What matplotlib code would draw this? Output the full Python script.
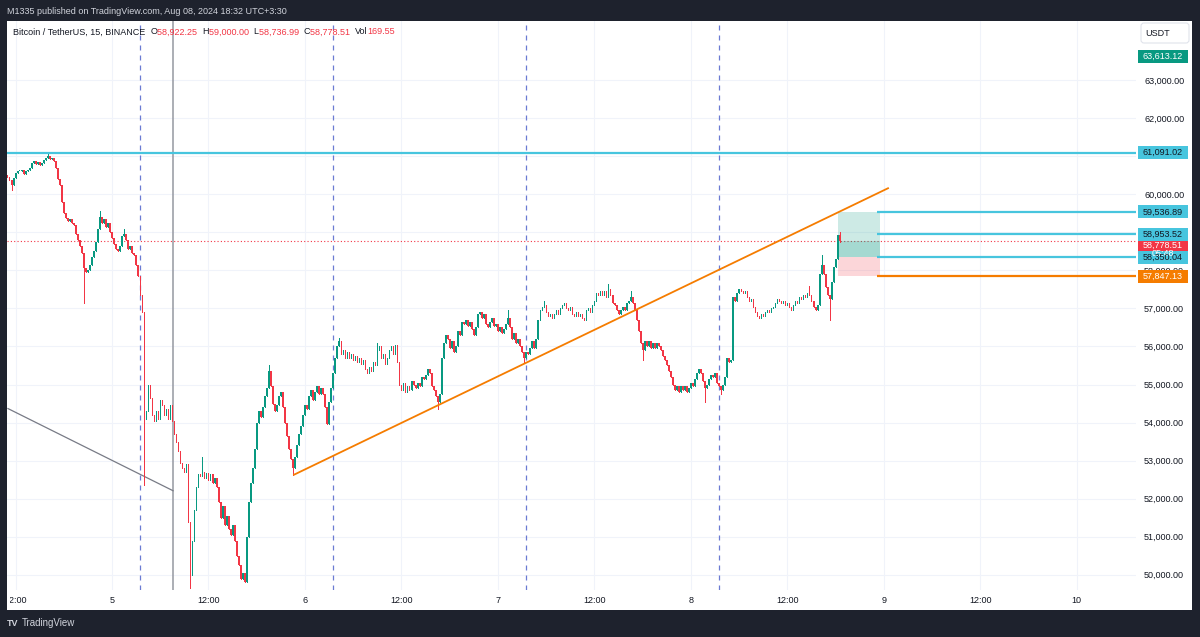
import numpy as np
import matplotlib.pyplot as plt
import matplotlib.transforms as mtransforms
from matplotlib.patches import Rectangle, FancyBboxPatch

plt.rcParams['font.family'] = ['Liberation Sans', 'DejaVu Sans']

W, H = 1200, 637

# 15 minute candles, time in hours counted from Aug 5 00:00
start_hour = -13.0
bar_hours = 0.25
first_open = 60500
closes = [
    60450, 60380, 60250, 60420, 60550, 60600, 60620, 60650, 60520, 60600,
    60650, 60700, 60820, 60880, 60800, 60850, 60780, 60830, 60900, 60950,
    61000, 60920, 60950, 60880, 60700, 60400, 60250, 59800, 59500, 59380,
    59300, 59350, 59250, 59200, 58950, 58800, 58650, 58450, 58050, 57950,
    58000, 58150, 58350, 58500, 58750, 59100, 59400, 59250, 59350, 59150,
    59250, 59000, 58850, 58700, 58550, 58500, 58650, 58900, 58950, 58800,
    58550, 58650, 58450, 58400, 58150, 57850, 57350, 56900, 54100, 54300,
    55000, 54650, 54200, 54050, 54300, 54100, 54600, 54450, 54200, 54350,
    54100, 54450, 54050, 53700, 53500, 53250, 52950, 52800, 52700, 52900,
    51400, 50000, 50900, 51700, 52300, 52650, 52600, 52700, 52550, 52680,
    52500, 52650, 52400, 52550, 52300, 51900, 51500, 51800, 51300, 51550,
    51200, 51050, 51300, 50900, 50500, 50250, 49900, 50050, 49800, 51000,
    51900, 52400, 52800, 53300, 54000, 54300, 54150, 54400, 54700, 54900,
    55350, 54950, 54500, 54300, 54450, 54700, 54800, 54400, 54000, 53650,
    53300, 53050, 52800, 53100, 53400, 53700, 53900, 54200, 54450, 54350,
    54700, 54850, 54600, 54800, 54950, 54750, 54900, 54750, 54400, 53950,
    54550, 54900, 55300, 55700, 56000, 56150, 55800, 55900, 55700, 55850,
    55700, 55800, 55650, 55750, 55600, 55700, 55550, 55650, 55400, 55300,
    55450, 55350, 55600, 55500, 55900, 56000, 55700, 55800, 55550, 55700,
    55900, 56000, 55800, 56050, 55600, 55000, 54850, 55050, 54800, 54950,
    54850, 55100, 55000, 54900, 55050, 54950, 55200, 55150, 55250, 55400,
    55300, 54950, 54850, 54700, 54550, 54750, 55700, 56100, 56300, 56200,
    55950, 56150, 55850, 56000, 56400, 56300, 56650, 56600, 56700, 56550,
    56650, 56450, 56300, 56500, 56850, 56900, 56750, 56850, 56600, 56500,
    56650, 56750, 56550, 56600, 56400, 56500, 56350, 56450, 56600, 56750,
    56500, 56200, 56350, 56100, 56200, 56000, 55850, 55700, 55850, 55800,
    55950, 56150, 55950, 56200, 56700, 56950, 57050, 57100, 56900, 56800,
    56850, 56750, 56850, 56950, 56850, 57000, 57100, 57150, 57000, 56950,
    57050, 56850, 56800, 56900, 56800, 56850, 56750, 56700, 56950, 57000,
    56900, 57100, 57200, 57400, 57350, 57450, 57350, 57450, 57300, 57500,
    57350, 57150, 57100, 56950, 56850, 56950, 57050, 56950, 57150, 57200,
    57300, 57150, 56950, 56700, 56400, 56100, 55900, 56150, 56000, 56150,
    55950, 56100, 55950, 56100, 56000, 55900, 55750, 55650, 55500, 55350,
    55200, 55000, 54850, 54950, 54800, 54950, 54850, 54950, 54800, 54900,
    55050, 54950, 55150, 55300, 55400, 55300, 55100, 54900, 55000, 55150,
    55250, 55200, 55300, 55050, 54950, 54850, 55000, 55200, 55700, 55600,
    55650, 57300, 57200, 57400, 57500, 57450, 57400, 57450, 57300, 57200,
    57250, 57050, 56900, 56800, 56750, 56850, 56800, 56900, 56950, 56900,
    57000, 57050, 57150, 57250, 57200, 57150, 57200, 57100, 57150, 57050,
    56950, 57100, 57200, 57150, 57300, 57250, 57350, 57300, 57400, 57350,
    57200, 57050, 56950, 57100, 57900, 58150, 57900, 57550, 57350, 57250,
    57700, 58100, 58300, 58922.25, 58778.51,
]
# visible wicks that stick out of the bodies
wick_high = {20: 61080, 46: 59550, 58: 59100, 97: 53100, 130: 55500, 165: 56210,
             184: 56100, 249: 56950, 267: 57200, 299: 57650, 310: 57450,
             399: 57600, 405: 58400, 414: 59000}
wick_low = {2: 60100, 38: 57130, 68: 52350, 91: 49650, 142: 52620, 214: 54350,
            257: 55600, 316: 55650, 347: 54550, 355: 54750, 409: 56700, 414: 58736.99}

tick_hours = [-12, 0, 12, 24, 36, 48, 60, 72, 84, 96, 108, 120]
tick_labels = ['12:00', '5', '12:00', '6', '12:00', '7', '12:00', '8', '12:00', '9', '12:00', '10']
price_ticks = list(range(50000, 64000, 1000))
hidden_ticks = [59000, 61000]  # covered by the line labels on the price scale

level_line = 61091.02
ray_levels = [59536.89, 58953.52, 58350.04]
stop_level = 57847.13
last_price = 58778.51
target, entry = 59536.89, 58350.04
top_label = 63613.12
trend_x, trend_y = [22.64, 96.52], [52630, 60158]
grey_x, grey_y = [-12.94, 7.59], [54368, 52209]
session_hours = [3.5, 27.5, 51.5, 75.5]
cursor_hour = 7.59
legend_parts = [('Bitcoin / TetherUS, 15, BINANCE  ', 'k'), ('O', 'k'), ('58,922.25  ', 'r'),
                ('H', 'k'), ('59,000.00  ', 'r'), ('L', 'k'), ('58,736.99  ', 'r'),
                ('C', 'k'), ('58,778.51  ', 'r'), ('Vol', 'k'), ('169.55', 'r')]

green, red = '#089981', '#f23645'
cyan, orange = '#47c5de', '#f57c00'
dark_bg = '#1e222d'
ink = '#131722'

fig = plt.figure(figsize=(W / 100, H / 100), dpi=100, facecolor=dark_bg)
fig.add_artist(Rectangle((7 / W, 1 - 610 / H), 1185 / W, 589 / H, transform=fig.transFigure,
                         facecolor='white', edgecolor='none', zorder=-2))

ax = fig.add_axes([7 / W, 1 - 590 / H, 1129 / W, 569 / H])
ax.set_xlim(-13.06, 127.36)
ax.set_ylim(49600, 64553)
for s in ax.spines.values():
    s.set_visible(False)
ax.grid(color='#f0f3fa', lw=0.8, zorder=0)
ax.set_axisbelow(True)

ax.yaxis.tick_right()
ax.set_yticks(price_ticks, ['' if p in hidden_ticks else f'{p:,.2f}' for p in price_ticks])
ax.set_xticks(tick_hours, tick_labels)
ax.tick_params(axis='y', length=0, pad=5.8, labelsize=6.5, labelcolor=ink)
ax.tick_params(axis='x', length=0, pad=4, labelsize=6.5, labelcolor=ink)

# candles
c = np.array(closes, dtype=float)
o = np.concatenate([[first_open], c[:-1]])
t = start_hour + bar_hours * np.arange(len(c))
hi = np.maximum(o, c)
lo = np.minimum(o, c)
for k, v in wick_high.items():
    hi[k] = v
for k, v in wick_low.items():
    lo[k] = v
cols = np.where(c >= o, green, red)
ax.vlines(t, lo, hi, colors=cols, lw=0.7, zorder=3, antialiased=False)
ax.bar(t, np.maximum(np.abs(c - o), 25), bottom=np.minimum(o, c), width=0.16,
       color=cols, linewidth=0, zorder=3, antialiased=False)

# drawings
for h in session_hours:
    ax.axvline(h, color='#6b7bd3', lw=0.9, ls=(0, (4, 4)), zorder=2)
ax.axvline(cursor_hour, color='#9598a1', lw=1.1, zorder=2)
ax.plot(grey_x, grey_y, color='#787b86', lw=0.9, zorder=2)
ax.axhline(last_price, color=red, lw=0.8, ls=(0, (1, 2)), zorder=2)
ax.axhline(level_line, color=cyan, lw=1.6, zorder=4)
ax.plot(trend_x, trend_y, color=orange, lw=1.3, zorder=4)

ax.add_patch(Rectangle((90.25, entry), 5.25, target - entry, facecolor=green, alpha=0.2, lw=0, zorder=2))
ax.add_patch(Rectangle((90.25, entry), 5.25, last_price - entry, facecolor=green, alpha=0.2, lw=0, zorder=2))
ax.add_patch(Rectangle((90.25, stop_level), 5.25, entry - stop_level, facecolor=red, alpha=0.2, lw=0, zorder=2))
ax.hlines(ray_levels, 95.2, 127.36, color=cyan, lw=1.6, zorder=4)
ax.hlines(stop_level, 95.2, 127.36, color=orange, lw=1.6, zorder=4)

# price axis labels
blend = mtransforms.blended_transform_factory(fig.transFigure, ax.transData)


def price_label(price, face, tc):
    fig.add_artist(Rectangle((1138 / W, price - 170), 50 / W, 340, transform=blend,
                             facecolor=face, edgecolor='none', zorder=5))
    fig.text(1163 / W, price, f'{price:,.2f}', transform=blend, ha='center', va='center',
             fontsize=6.5, color=tc, zorder=6)


price_label(top_label, green, 'white')
price_label(level_line, cyan, ink)
fig.add_artist(Rectangle((1138 / W, 58360), 50 / W, 440, transform=blend,
                         facecolor=red, edgecolor='none', zorder=5))
fig.text(1163 / W, 58660, f'{last_price:,.2f}', transform=blend, ha='center', va='center',
         fontsize=6.5, color='white', zorder=6)
fig.text(1163 / W, 58440, '05:48', transform=blend, ha='center', va='center',
         fontsize=6.5, color='white', zorder=6)
for lv in ray_levels:
    price_label(lv, cyan, ink)
price_label(stop_level, orange, 'white')

fig.add_artist(FancyBboxPatch((1141 / 100, (H - 43) / 100), 0.48, 0.2,
                              boxstyle='round,pad=0,rounding_size=0.03',
                              transform=fig.dpi_scale_trans, facecolor='white',
                              edgecolor='#e0e3eb', lw=0.8, zorder=5))
fig.text(1158 / W, 1 - 33 / H, 'USDT', ha='center', va='center', fontsize=6.5,
         color=ink, zorder=6)

# frame covers and header/footer texts
fig.add_artist(Rectangle((0, 1 - 610 / H), 7 / W, 589 / H, transform=fig.transFigure,
                         facecolor=dark_bg, edgecolor='none', zorder=10))
fig.add_artist(Rectangle((7 / W, 1 - 609 / H), 2.5 / W, 18 / H, transform=fig.transFigure,
                         facecolor='white', edgecolor='none', zorder=10))
fig.text(7 / W, 1 - 11 / H, 'M1335 published on TradingView.com, Aug 08, 2024 18:32 UTC+3:30',
         ha='left', va='center', fontsize=6.5, color='#d1d4dc')
fig.text(22 / W, 1 - 623 / H, 'TradingView', ha='left', va='center', fontsize=7, color='#d1d4dc')
fig.text(7 / W, 1 - 623 / H, 'TV', ha='left', va='center', fontsize=6.5, fontweight='bold',
         color='#d1d4dc')

renderer = fig.canvas.get_renderer()
x_px = 13
for txt, kind in legend_parts:
    tt = fig.text(x_px / W, 1 - 32 / H, txt, ha='left', va='center', fontsize=6.5,
                  color=ink if kind == 'k' else red)
    x_px += tt.get_window_extent(renderer).width

fig.savefig('out.png', dpi=100, facecolor=dark_bg)
